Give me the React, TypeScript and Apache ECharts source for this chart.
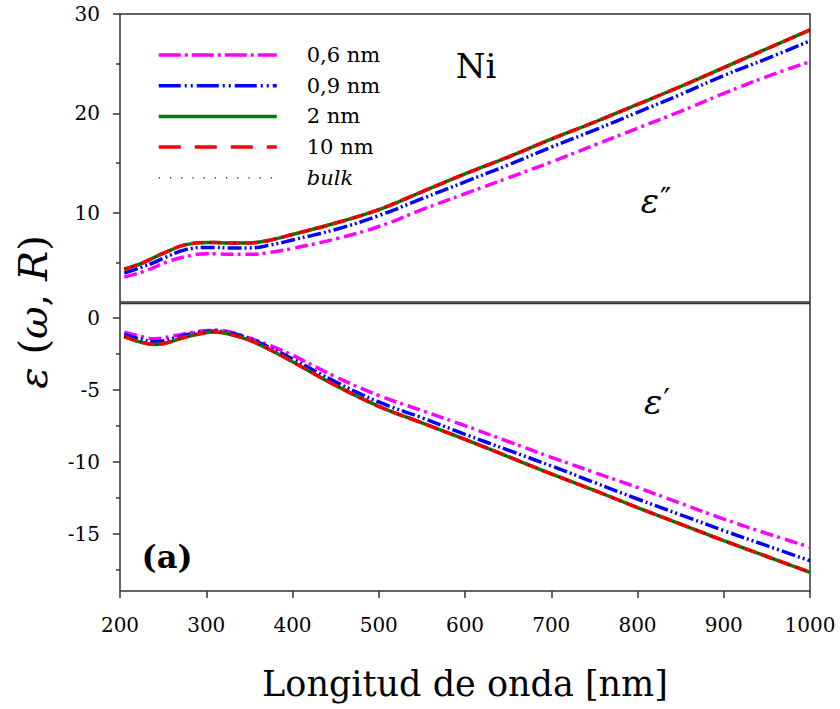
import { useEffect, useRef } from "react";
import * as echarts from "echarts";

// ---- data ----
const wavelength = [205, 225, 240, 250, 275, 300, 310, 325, 350, 375, 400, 450, 500, 550, 600, 650, 700, 750, 800, 850, 900, 950, 1000];

// imaginary part  ε''
const imag06 = [3.5, 4.0, 4.5, 4.9, 5.55, 5.85, 5.85, 5.8, 5.8, 6.0, 6.4, 7.35, 8.6, 10.3, 11.9, 13.5, 15.1, 16.8, 18.5, 20.2, 22.0, 23.7, 25.2];
const imag09 = [3.9, 4.5, 5.0, 5.4, 6.25, 6.5, 6.5, 6.45, 6.45, 6.75, 7.25, 8.3, 9.7, 11.4, 13.1, 14.8, 16.6, 18.3, 20.1, 21.9, 23.8, 25.5, 27.3];
const imag2 = [4.3, 4.9, 5.5, 5.9, 6.75, 7.0, 7.0, 6.95, 6.95, 7.25, 7.8, 8.95, 10.3, 12.1, 13.9, 15.6, 17.4, 19.1, 20.9, 22.7, 24.6, 26.5, 28.4];
const imag10 = [4.3, 4.9, 5.5, 5.9, 6.75, 7.0, 7.0, 6.95, 6.95, 7.25, 7.8, 8.95, 10.3, 12.1, 13.9, 15.6, 17.4, 19.1, 20.9, 22.7, 24.6, 26.5, 28.4];
const imagBulk = [4.3, 4.9, 5.5, 5.9, 6.75, 7.0, 7.0, 6.95, 6.95, 7.25, 7.8, 8.95, 10.3, 12.1, 13.9, 15.6, 17.4, 19.1, 20.9, 22.7, 24.6, 26.5, 28.4];

// real part  ε'
const real06 = [-1.0, -1.3, -1.45, -1.4, -1.1, -0.88, -0.85, -0.95, -1.4, -1.95, -2.6, -4.1, -5.4, -6.45, -7.5, -8.6, -9.7, -10.75, -11.8, -12.9, -14.0, -15.0, -15.95];
const real09 = [-1.15, -1.5, -1.65, -1.6, -1.2, -0.95, -0.92, -1.0, -1.45, -2.1, -2.85, -4.45, -5.85, -6.95, -8.1, -9.2, -10.3, -11.45, -12.6, -13.7, -14.8, -15.85, -16.9];
const real2 = [-1.3, -1.7, -1.85, -1.8, -1.35, -1.02, -0.98, -1.1, -1.55, -2.25, -3.05, -4.7, -6.15, -7.3, -8.45, -9.65, -10.85, -12.0, -13.2, -14.35, -15.5, -16.6, -17.7];
const real10 = [-1.3, -1.7, -1.85, -1.8, -1.35, -1.02, -0.98, -1.1, -1.55, -2.25, -3.05, -4.7, -6.15, -7.3, -8.45, -9.65, -10.85, -12.0, -13.2, -14.35, -15.5, -16.6, -17.7];
const realBulk = [-1.3, -1.7, -1.85, -1.8, -1.35, -1.02, -0.98, -1.1, -1.55, -2.25, -3.05, -4.7, -6.15, -7.3, -8.45, -9.65, -10.85, -12.0, -13.2, -14.35, -15.5, -16.6, -17.7];

const seriesNames = ["0,6 nm", "0,9 nm", "2 nm", "10 nm", "bulk"];
const imagSeries = [imag06, imag09, imag2, imag10, imagBulk];
const realSeries = [real06, real09, real2, real10, realBulk];

const topMajorTicks = [10, 20, 30];
const topMinorTicks = [5, 15, 25];
const bottomMajorTicks = [0, -5, -10, -15];
const bottomMinorTicks = [-2.5, -7.5, -12.5, -17.5];

// ---- styles ----
const FONT = "DejaVu Serif";
const AXIS_COLOR = "#333";
const lineStyles = [
  { color: "#ff00ff", width: 3.5, plot: [13, 4, 3, 5], legend: [22, 4, 3, 4] },
  { color: "#0000ff", width: 3.5, plot: [14, 3, 2, 3, 2, 3], legend: [22, 4, 2, 4, 2, 4] },
  { color: "#008000", width: 3.5, plot: "solid", legend: "solid" },
  { color: "#ff0000", width: 3.5, plot: [13, 5], legend: [22, 14] },
  { color: "#000000", width: 1.2, plot: [1.2, 7], legend: [1.2, 10] },
];

function pairs(xs: number[], ys: number[]) {
  return xs.map((x, i) => [x, ys[i]]);
}

export default function App() {
  const ref = useRef<HTMLDivElement>(null);

  useEffect(() => {
    if (!ref.current) return;
    const chart = echarts.init(ref.current, undefined, { renderer: "svg" });

    const series: any[] = [];
    seriesNames.forEach((name, i) => {
      const st = lineStyles[i];
      series.push({
        name,
        type: "line",
        xAxisIndex: 0,
        yAxisIndex: 0,
        data: pairs(wavelength, imagSeries[i]),
        symbol: "none",
        smooth: 0.4,
        lineStyle: { color: st.color, width: st.width, type: st.plot },
        itemStyle: { color: st.color },
        z: 2 + i,
      });
    });
    seriesNames.forEach((name, i) => {
      const st = lineStyles[i];
      series.push({
        name,
        type: "line",
        xAxisIndex: 1,
        yAxisIndex: 2,
        data: pairs(wavelength, realSeries[i]),
        symbol: "none",
        smooth: 0.4,
        lineStyle: { color: st.color, width: st.width, type: st.plot },
        itemStyle: { color: st.color },
        z: 2 + i,
      });
    });

    const tickLabel = { fontFamily: FONT, fontSize: 20, color: "#000", formatter: (v: number) => String(v) };
    const epsRich = {
      e: { fontFamily: FONT, fontStyle: "italic", fontSize: 34, fill: "#000" },
      p: { fontFamily: FONT, fontSize: 30, fill: "#000", padding: [0, 0, 6, 1] },
    };

    const option: any = {
      animation: false,
      backgroundColor: "#fff",
      textStyle: { fontFamily: FONT },
      grid: [
        { left: 120, top: 14, width: 690, height: 288, show: true, borderColor: AXIS_COLOR, borderWidth: 1.5, backgroundColor: "transparent" },
        { left: 120, top: 303.5, width: 690, height: 287.5, show: true, borderColor: AXIS_COLOR, borderWidth: 1.5, backgroundColor: "transparent" },
      ],
      xAxis: [
        {
          type: "value", gridIndex: 0, min: 200, max: 1000, interval: 100, position: "bottom",
          axisLine: { show: false, onZero: false }, axisTick: { show: false }, axisLabel: { show: false }, splitLine: { show: false },
        },
        {
          type: "value", gridIndex: 1, min: 200, max: 1000, interval: 100, position: "bottom",
          axisLine: { show: false, onZero: false },
          axisTick: { show: true, length: 7, inside: false, lineStyle: { color: AXIS_COLOR, width: 1.5 } },
          axisLabel: { ...tickLabel, margin: 24 },
          splitLine: { show: false },
          name: "Longitud de onda [nm]",
          nameLocation: "middle",
          nameGap: 75,
          nameTextStyle: { fontFamily: FONT, fontSize: 35, color: "#000" },
        },
      ],
      yAxis: [
        {
          type: "value", gridIndex: 0, min: 1, max: 30, position: "left",
          axisLine: { show: false, onZero: false },
          axisTick: { show: true, length: 7, customValues: topMajorTicks, lineStyle: { color: AXIS_COLOR, width: 1.5 } },
          axisLabel: { ...tickLabel, margin: 20, customValues: topMajorTicks },
          splitLine: { show: false },
        },
        {
          type: "value", gridIndex: 0, min: 1, max: 30, position: "left",
          axisLine: { show: false, onZero: false },
          axisTick: { show: true, length: 4, customValues: topMinorTicks, lineStyle: { color: AXIS_COLOR, width: 1.5 } },
          axisLabel: { show: false },
          splitLine: { show: false },
        },
        {
          type: "value", gridIndex: 1, min: -19, max: 1, position: "left",
          axisLine: { show: false, onZero: false },
          axisTick: { show: true, length: 7, customValues: bottomMajorTicks, lineStyle: { color: AXIS_COLOR, width: 1.5 } },
          axisLabel: { ...tickLabel, margin: 20, customValues: bottomMajorTicks },
          splitLine: { show: false },
        },
        {
          type: "value", gridIndex: 1, min: -19, max: 1, position: "left",
          axisLine: { show: false, onZero: false },
          axisTick: { show: true, length: 4, customValues: bottomMinorTicks, lineStyle: { color: AXIS_COLOR, width: 1.5 } },
          axisLabel: { show: false },
          splitLine: { show: false },
        },
      ],
      legend: {
        orient: "vertical",
        left: 152,
        top: 39.5,
        itemWidth: 118,
        itemHeight: 14,
        itemGap: 9.7,
        selectedMode: false,
        itemStyle: { opacity: 0, borderWidth: 0 },
        textStyle: { fontFamily: FONT, fontSize: 21, color: "#000", padding: [0, 0, 0, 25] },
        data: seriesNames.map((name, i) => ({
          name,
          lineStyle: { color: lineStyles[i].color, width: lineStyles[i].width, type: lineStyles[i].legend },
          textStyle: name === "bulk" ? { fontStyle: "italic", fontFamily: FONT } : { fontFamily: FONT },
        })),
      },
      graphic: [
        {
          type: "text", x: 33, y: 312, rotation: Math.PI / 2,
          style: {
            text: "{i|ε} ({i|ω}, {i|R})",
            rich: { i: { fontStyle: "italic", fontFamily: FONT, fontSize: 40, fill: "#000" } },
            fontFamily: FONT, fontSize: 40, fill: "#000", align: "center", verticalAlign: "middle",
          },
        },
        {
          type: "text", x: 476, y: 66,
          style: { text: "Ni", fontFamily: FONT, fontSize: 34, fill: "#000", align: "center", verticalAlign: "middle" },
        },
        {
          type: "text", x: 656, y: 201,
          style: { text: "{e|ε}{p|″}", rich: epsRich, fontFamily: FONT, fontSize: 34, fill: "#000", align: "center", verticalAlign: "middle" },
        },
        {
          type: "text", x: 657, y: 402,
          style: { text: "{e|ε}{p|′}", rich: epsRich, fontFamily: FONT, fontSize: 34, fill: "#000", align: "center", verticalAlign: "middle" },
        },
        {
          type: "text", x: 167, y: 557,
          style: { text: "(a)", fontFamily: FONT, fontWeight: "bold", fontSize: 32, fill: "#000", align: "center", verticalAlign: "middle" },
        },
      ],
      series,
    };

    chart.setOption(option);
    return () => chart.dispose();
  }, []);

  return (
    <div
      ref={ref}
      style={{ position: "absolute", left: 0, top: 0, width: 840, height: 709, background: "#fff" }}
    />
  );
}
